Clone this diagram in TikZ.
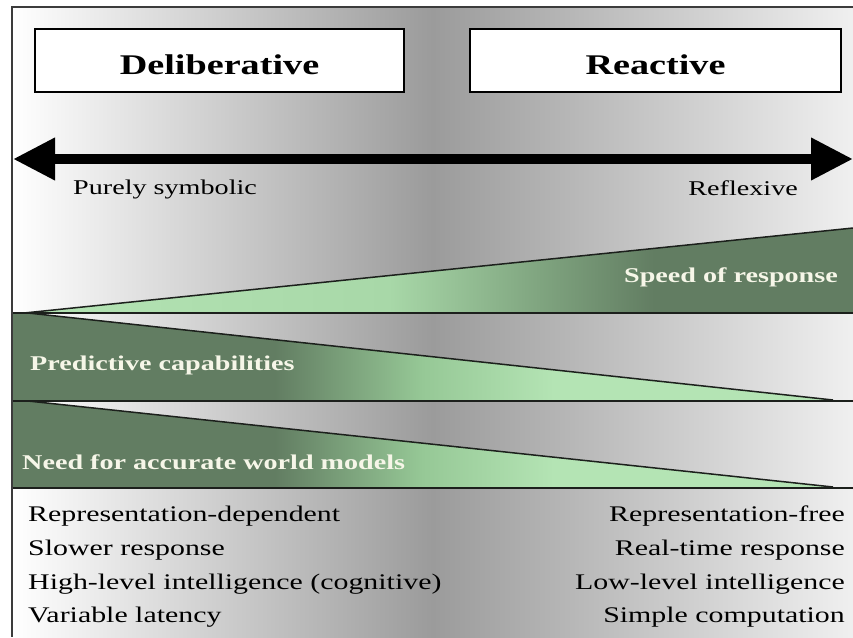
\documentclass[tikz,border=0pt]{standalone}
\usepackage{fontspec}
\setmainfont[FakeStretch=1.34]{Liberation Serif}
\usetikzlibrary{arrows.meta}

% palette
\definecolor{midgray}{RGB}{155,155,155}
\definecolor{edgeline}{RGB}{28,32,28}
\definecolor{framegray}{RGB}{60,60,60}
\definecolor{labelcream}{RGB}{246,246,232}
\definecolor{gDark}{RGB}{98,125,98}
\definecolor{gMid}{RGB}{128,165,128}
\definecolor{gMidLight}{RGB}{150,200,150}
\definecolor{gPale}{RGB}{168,216,168}
\definecolor{gLight}{RGB}{180,228,180}

% green ramps: light-to-dark for the growing wedge, dark-to-light for the shrinking ones
\pgfdeclarehorizontalshading{risingshade}{100bp}{color(0bp)=(gLight); color(25bp)=(gLight); color(47bp)=(gPale); color(56bp)=(gMid); color(63bp)=(gDark); color(100bp)=(gDark)}
\pgfdeclarehorizontalshading{fallingshade}{100bp}{color(0bp)=(gDark); color(41bp)=(gDark); color(50bp)=(gMidLight); color(58bp)=(gLight); color(100bp)=(gLight)}

\tikzset{
  titlebox/.style={draw=black, line width=1.3pt, fill=white, minimum width=369pt, minimum height=63pt, inner sep=0pt},
  titletext/.style={font=\fontsize{28.5}{30}\selectfont\bfseries, inner sep=0pt, anchor=base},
  scaletext/.style={font=\fontsize{21}{24}\selectfont, inner sep=0pt},
  bandtext/.style={font=\fontsize{21}{24}\selectfont\bfseries, text=labelcream, inner sep=0pt},
  listtext/.style={font=\fontsize{22.3}{26}\selectfont, inner sep=0pt},
  bandline/.style={draw=edgeline, line width=1.5pt},
  axisarrow/.style={line width=10pt, {Triangle[length=42pt,width=40pt]}-{Triangle[length=42pt,width=40pt]}},
}

\begin{document}
\begin{tikzpicture}[x=1pt,y=-1pt]
\useasboundingbox (0,0) rectangle (853,637);
\fill[white] (0,0) rectangle (853,637);

% shaded panel: light at both sides, grey in the middle
\fill[left color=white, right color=white!94!black, middle color=midgray] (12,7) rectangle (853,637);

% title boxes
\node[titlebox] (delibbox) at (219.5,60.5) {};
\node[titlebox, minimum width=371pt] (reactbox) at (655.5,60.5) {};
\node[titletext] (delib) at (219.5,74) {Deliberative};
\node[titletext] (react) at (655.5,74) {Reactive};

% spectrum arrow
\coordinate (leftend) at (13,159);
\coordinate (rightend) at (853,159);
\draw[axisarrow] (leftend) -- (rightend);
\node[scaletext, anchor=base west] (symbolic) at (73,194) {Purely symbolic};
\node[scaletext, anchor=base east] (reflexive) at (798,195) {Reflexive};

% wedge corners
\coordinate (apexA) at (24,313);
\coordinate (speedtop) at (853,228);
\coordinate (speedbot) at (853,313);
\coordinate (apexB) at (28,313);
\coordinate (predtip) at (833,400);
\coordinate (apexC) at (28,401);
\coordinate (needtip) at (833,487);

% speed of response wedge
\fill[shading=risingshade] (apexA) -- (speedtop) -- (speedbot) -- cycle;
% predictive capabilities wedge
\fill[shading=fallingshade] (12,313) -- (apexB) -- (predtip) -- (833,401) -- (12,401) -- cycle;
% need for accurate world models wedge
\fill[shading=fallingshade] (12,401) -- (apexC) -- (needtip) -- (833,488) -- (12,488) -- cycle;

\draw[bandline] (apexA) -- (speedtop);
\draw[bandline] (apexB) -- (predtip);
\draw[bandline] (apexC) -- (needtip);

\coordinate (rowAl) at (12,313);  \coordinate (rowAr) at (853,313);
\coordinate (rowBl) at (12,401);  \coordinate (rowBr) at (853,401);
\coordinate (rowCl) at (12,488);  \coordinate (rowCr) at (853,488);
\draw[bandline] (rowAl) -- (rowAr);
\draw[bandline] (rowBl) -- (rowBr);
\draw[bandline] (rowCl) -- (rowCr);

\node[bandtext, anchor=base east] (speed) at (838,282) {Speed of response};
\node[bandtext, anchor=base west] (predict) at (30,370) {Predictive capabilities};
\node[bandtext, anchor=base west] (needmodels) at (22,469) {Need for accurate world models};

% property lists
\node[listtext, anchor=base west] (l1) at (28,521) {Representation-dependent};
\node[listtext, anchor=base west] (l2) at (28,555) {Slower response};
\node[listtext, anchor=base west] (l3) at (28,589) {High-level intelligence (cognitive)};
\node[listtext, anchor=base west] (l4) at (28,622) {Variable latency};
\node[listtext, anchor=base east] (r1) at (845,521) {Representation-free};
\node[listtext, anchor=base east] (r2) at (845,555) {Real-time response};
\node[listtext, anchor=base east] (r3) at (845,589) {Low-level intelligence};
\node[listtext, anchor=base east] (r4) at (845,622) {Simple computation};

% frame edges
\coordinate (frameTL) at (12,7);
\coordinate (frameTR) at (853,7);
\coordinate (frameBL) at (12,637);
\draw[framegray, line width=1.3pt] (frameTR) -- (frameTL) -- (frameBL);
\end{tikzpicture}
\end{document}
